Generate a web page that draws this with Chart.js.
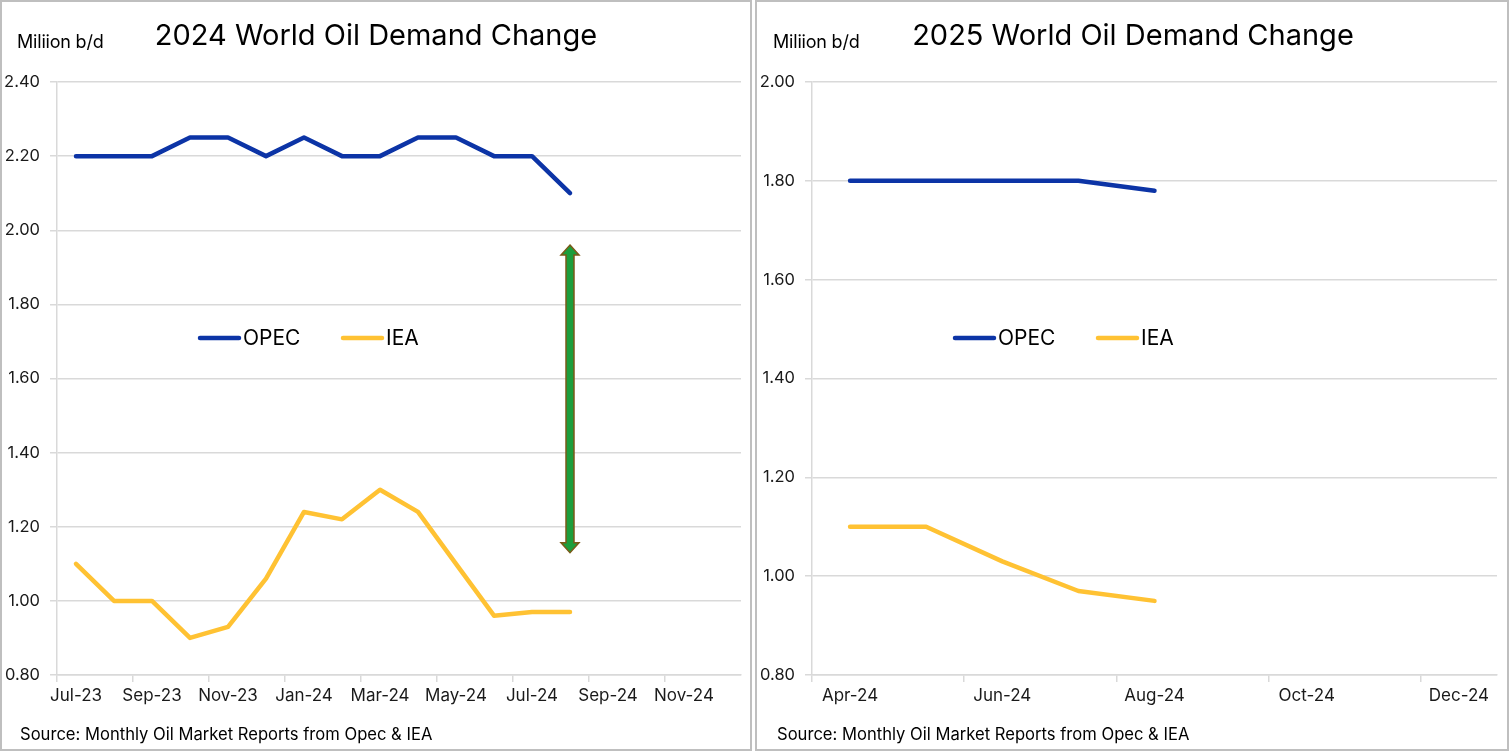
<!DOCTYPE html>
<html>
<head>
<meta charset="utf-8">
<script src="https://cdn.jsdelivr.net/npm/chart.js@4"></script>
<style>
  body { margin: 0; background: #fff; font-family: Inter, sans-serif; }
  .panel { position: absolute; top: 0; height: 751px; box-sizing: border-box; border: 2px solid #bfbfbf; }
  .box { position: absolute; top: 0; height: 750px; }
  .title { position: absolute; top: 17px; font-size: 29px; color: #000; white-space: nowrap; transform: translateX(-50%); }
  .unit { position: absolute; top: 31px; font-size: 18px; color: #000; white-space: nowrap; letter-spacing: -0.2px; }
  .source { position: absolute; top: 724px; font-size: 16.6px; color: #000; white-space: nowrap; }
</style>
</head>
<body>
<div class="panel" style="left:0;width:752px"></div>
<div class="panel" style="left:755px;width:754px"></div>

<div class="box" style="left:0;width:751px"><canvas id="left"></canvas></div>
<div class="box" style="left:755px;width:754px"><canvas id="right"></canvas></div>

<div class="unit" style="left:17px">Miliion b/d</div>
<div class="title" style="left:376px">2024 World Oil Demand Change</div>
<div class="source" style="left:20px">Source: Monthly Oil Market Reports from Opec &amp; IEA</div>

<div class="unit" style="left:773px">Miliion b/d</div>
<div class="title" style="left:1133px">2025 World Oil Demand Change</div>
<div class="source" style="left:777px">Source: Monthly Oil Market Reports from Opec &amp; IEA</div>

<script>
// 2024 demand change estimates, by report month
const months2024 = ['Jul-23', 'Aug-23', 'Sep-23', 'Oct-23', 'Nov-23', 'Dec-23', 'Jan-24', 'Feb-24', 'Mar-24',
  'Apr-24', 'May-24', 'Jun-24', 'Jul-24', 'Aug-24', 'Sep-24', 'Oct-24', 'Nov-24', 'Dec-24'];
const opec2024 = [2.20, 2.20, 2.20, 2.25, 2.25, 2.20, 2.25, 2.20, 2.20, 2.25, 2.25, 2.20, 2.20, 2.10];
const iea2024 = [1.10, 1.00, 1.00, 0.90, 0.93, 1.06, 1.24, 1.22, 1.30, 1.24, 1.10, 0.96, 0.97, 0.97];
const yRange2024 = [0.8, 2.4];

// gap arrow on the 2024 chart (Aug-24)
const gapMonth = 'Aug-24';
const gapValues = [1.96, 1.13];

// 2025 demand change estimates
const months2025 = ['Apr-24', 'May-24', 'Jun-24', 'Jul-24', 'Aug-24', 'Sep-24', 'Oct-24', 'Nov-24', 'Dec-24'];
const opec2025 = [1.80, 1.80, 1.80, 1.80, 1.78];
const iea2025 = [1.10, 1.10, 1.03, 0.97, 0.95];
const yRange2025 = [0.8, 2.0];

const yStep = 0.2;
const OPEC_COLOR = '#0c34a6';
const IEA_COLOR = '#ffc233';
const GRID = '#d9d9d9';

// legend drawn inside the plot, like the excel one
const innerLegend = {
  id: 'innerLegend',
  afterDraw(chart) {
    const ctx = chart.ctx;
    const y = 338;
    const items = [
      { x: 198, text: 'OPEC', color: OPEC_COLOR },
      { x: 341, text: 'IEA', color: IEA_COLOR }
    ];
    ctx.save();
    ctx.lineCap = 'round';
    ctx.lineWidth = 4.5;
    ctx.font = '21px Inter';
    ctx.textBaseline = 'middle';
    ctx.fillStyle = '#000';
    items.forEach(it => {
      ctx.strokeStyle = it.color;
      ctx.beginPath();
      ctx.moveTo(it.x + 2, y);
      ctx.lineTo(it.x + 41, y);
      ctx.stroke();
      ctx.fillText(it.text, it.x + 45, y + 1);
    });
    ctx.restore();
  }
};

const gapArrow = {
  id: 'gapArrow',
  afterDatasetsDraw(chart, args, opts) {
    if (!opts.show) return;
    const ctx = chart.ctx;
    const x = chart.scales.x.getPixelForValue(months2024.indexOf(gapMonth));
    const top = chart.scales.y.getPixelForValue(gapValues[0]);
    const bot = chart.scales.y.getPixelForValue(gapValues[1]);
    const sw = 4, hw = 9, hl = 10;
    ctx.save();
    ctx.beginPath();
    ctx.moveTo(x, top);
    ctx.lineTo(x + hw, top + hl);
    ctx.lineTo(x + sw, top + hl);
    ctx.lineTo(x + sw, bot - hl);
    ctx.lineTo(x + hw, bot - hl);
    ctx.lineTo(x, bot);
    ctx.lineTo(x - hw, bot - hl);
    ctx.lineTo(x - sw, bot - hl);
    ctx.lineTo(x - sw, top + hl);
    ctx.lineTo(x - hw, top + hl);
    ctx.closePath();
    ctx.fillStyle = '#1c9e3c';
    ctx.fill();
    ctx.lineWidth = 1.5;
    ctx.strokeStyle = '#7a5a18';
    ctx.stroke();
    ctx.restore();
  }
};

function makeChart(id, labels, opec, iea, yRange, rightPad, showArrow) {
  const n = labels.length;
  return new Chart(document.getElementById(id), {
    type: 'line',
    data: {
      labels: labels,
      datasets: [
        { label: 'OPEC', data: opec, borderColor: OPEC_COLOR, borderWidth: 4.5 },
        { label: 'IEA', data: iea, borderColor: IEA_COLOR, borderWidth: 4.5 }
      ]
    },
    options: {
      responsive: true,
      maintainAspectRatio: false,
      animation: false,
      layout: { padding: { left: 0, top: 82, right: rightPad, bottom: 35 } },
      elements: {
        point: { radius: 0 },
        line: { tension: 0, borderCapStyle: 'round', borderJoinStyle: 'round' }
      },
      plugins: {
        legend: { display: false },
        tooltip: { enabled: false },
        gapArrow: { show: showArrow }
      },
      scales: {
        x: {
          type: 'category',
          offset: true,
          afterFit: s => { s.height = 40; },
          grid: {
            offset: true,
            drawOnChartArea: false,
            tickLength: 7,
            lineWidth: 1.5,
            color: c => (c.index % 2 === 0 && c.index < n) ? GRID : 'rgba(0,0,0,0)'
          },
          border: { color: GRID, width: 1.5 },
          ticks: {
            autoSkip: false,
            maxRotation: 0,
            padding: 4,
            color: '#1a1a1a',
            font: { family: 'Inter', size: 17 },
            callback: (v, i) => i % 2 === 0 ? labels[i] : ''
          }
        },
        y: {
          min: yRange[0],
          max: yRange[1],
          afterFit: s => { s.width = 57; },
          grid: { color: GRID, lineWidth: 1.5, tickLength: 7 },
          border: { color: GRID, width: 1.5 },
          ticks: {
            stepSize: yStep,
            padding: 10,
            color: '#1a1a1a',
            font: { family: 'Inter', size: 16.5 },
            callback: v => v.toFixed(2)
          }
        }
      }
    },
    plugins: [innerLegend, gapArrow]
  });
}

makeChart('left', months2024, opec2024, iea2024, yRange2024, 10, true);
makeChart('right', months2025, opec2025, iea2025, yRange2025, 12, false);
</script>
</body>
</html>
